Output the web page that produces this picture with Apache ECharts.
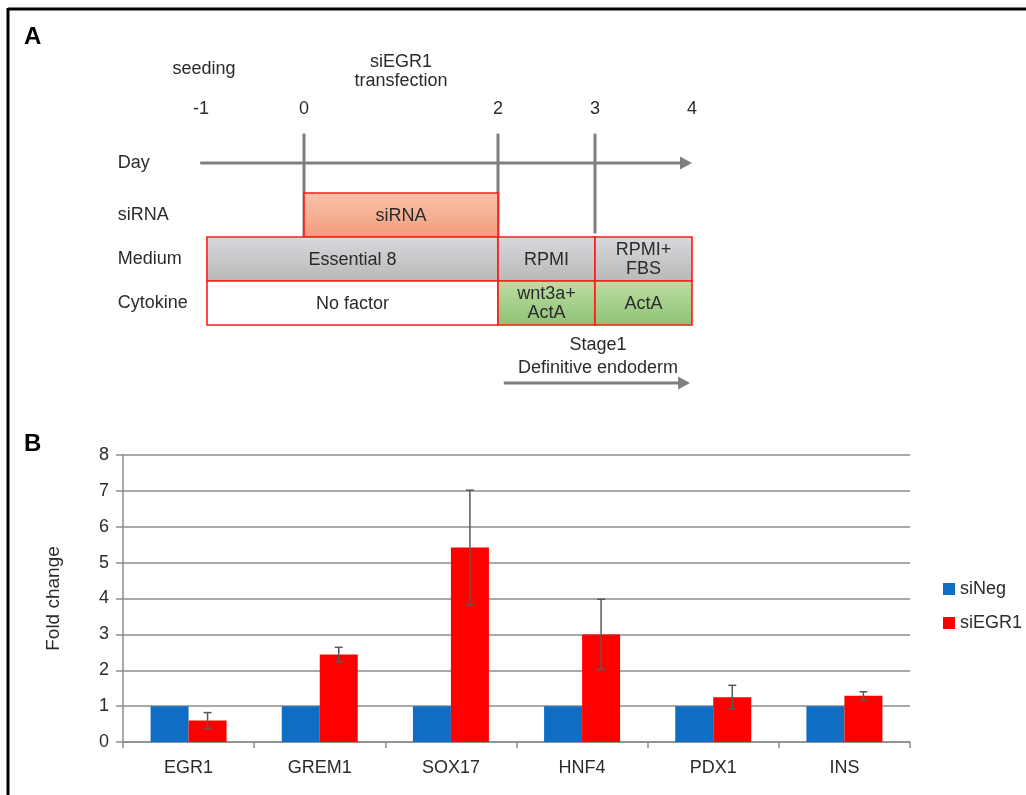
<!DOCTYPE html>
<html>
<head>
<meta charset="utf-8">
<script src="https://cdn.jsdelivr.net/npm/echarts@6/dist/echarts.min.js"></script>
<style>
html,body{margin:0;padding:0;background:#fff;}
#chart{width:1026px;height:795px;}
</style>
</head>
<body>
<div id="chart"></div>
<script>
// ---------- Panel B data ----------
const genes = ['EGR1', 'GREM1', 'SOX17', 'HNF4', 'PDX1', 'INS'];
const siNeg = [1, 1, 1, 1, 1, 1];
const siEGR1 = [0.6, 2.44, 5.42, 3.0, 1.25, 1.29];
const siEGR1Err = [0.22, 0.2, 1.6, 0.98, 0.33, 0.11];
const seriesNames = ['siNeg', 'siEGR1'];
const yAxisTitle = 'Fold change';

// ---------- Panel A data (timeline schematic) ----------
const dayTicks = [-1, 0, 2, 3, 4];
const markedDays = [0, 2, 3];
const rowNames = ['Day', 'siRNA', 'Medium', 'Cytokine'];
const boxLabels = ['siRNA', 'Essential 8', 'RPMI', 'RPMI+\nFBS', 'No factor', 'wnt3a+\nActA', 'ActA'];
const boxRow = ['siRNA', 'Medium', 'Medium', 'Medium', 'Cytokine', 'Cytokine', 'Cytokine'];
const boxStartDay = [0, -1, 2, 3, -1, 2, 3];
const boxEndDay = [2, 2, 3, 4, 2, 3, 4];
const boxKind = ['sirna', 'medium', 'medium', 'medium', 'none', 'factor', 'factor'];
const noteTexts = ['seeding', 'siEGR1\ntransfection'];
const noteDays = [-1, 1];
const stageText = 'Stage1\nDefinitive endoderm';
const stageDays = [2, 4];

// ---------- styling ----------
const FONT = 'Liberation Sans, Arial, sans-serif';
const TXT = '#2b2b2b';
const LINE_GRAY = '#7f7f7f';
const BAR_W = 38;
const DAY_ROW_Y = -0.68;
const FS_A = 18;
const fills = {
  sirna: {type: 'linear', x: 0, y: 0, x2: 0, y2: 1, colorStops: [{offset: 0, color: '#f9c3aa'}, {offset: 1, color: '#f19c7b'}]},
  medium: {type: 'linear', x: 0, y: 0, x2: 0, y2: 1, colorStops: [{offset: 0, color: '#d9d9de'}, {offset: 1, color: '#b8b8b8'}]},
  factor: {type: 'linear', x: 0, y: 0, x2: 0, y2: 1, colorStops: [{offset: 0, color: '#bcdea5'}, {offset: 1, color: '#8ec274'}]},
  none: '#ffffff'
};

function arrow(p1, p2, color) {
  const head = 12, hw = 6.5;
  return [
    {type: 'line', shape: {x1: p1[0], y1: p1[1], x2: p2[0] - head + 2, y2: p2[1]}, style: {stroke: color, lineWidth: 3}},
    {type: 'polygon', shape: {points: [[p2[0], p2[1]], [p2[0] - head, p2[1] - hw], [p2[0] - head, p2[1] + hw]]}, style: {fill: color}}
  ];
}

const chart = echarts.init(document.getElementById('chart'), null, {renderer: 'canvas'});

const option = {
  backgroundColor: '#ffffff',
  animation: false,
  textStyle: {fontFamily: FONT},
  graphic: [
    {type: 'line', shape: {x1: 8, y1: 9, x2: 1026, y2: 9}, style: {stroke: '#000', lineWidth: 3}},
    {type: 'line', shape: {x1: 8, y1: 8, x2: 8, y2: 795}, style: {stroke: '#000', lineWidth: 3}},
    {type: 'text', left: 24, top: 25, style: {text: 'A', font: 'bold 24px ' + FONT, fill: '#000'}},
    {type: 'text', left: 24, top: 432, style: {text: 'B', font: 'bold 24px ' + FONT, fill: '#000'}}
  ],
  legend: {
    orient: 'vertical',
    left: 943,
    top: 580,
    padding: 0,
    itemWidth: 12,
    itemHeight: 12,
    itemGap: 16,
    icon: 'rect',
    data: seriesNames,
    textStyle: {fontSize: 18, color: TXT, fontFamily: FONT}
  },
  grid: [
    {left: 123, right: 116, top: 455, bottom: 53},
    {left: 207, right: 334, top: 61, bottom: 382}
  ],
  xAxis: [
    {
      type: 'category', gridIndex: 0, data: genes,
      axisLine: {lineStyle: {color: '#8c8c8c', width: 1.5}},
      axisTick: {show: true, length: 6, interval: 0, alignWithLabel: false, lineStyle: {color: '#8c8c8c', width: 1.5}},
      axisLabel: {fontSize: 18, color: TXT, margin: 17, fontFamily: FONT}
    },
    {type: 'value', gridIndex: 1, min: -1, max: 4, show: false}
  ],
  yAxis: [
    {
      type: 'value', gridIndex: 0, min: 0, max: 8, interval: 1,
      name: yAxisTitle, nameLocation: 'middle', nameGap: 60, nameRotate: 90,
      nameTextStyle: {fontSize: 19, color: TXT, fontFamily: FONT},
      axisLine: {show: true, lineStyle: {color: '#8c8c8c', width: 1.5}},
      axisTick: {show: true, length: 7, lineStyle: {color: '#8c8c8c', width: 1.5}},
      axisLabel: {fontSize: 18, color: TXT, margin: 14, fontFamily: FONT},
      splitLine: {show: true, lineStyle: {color: '#8c8c8c', width: 1.5}}
    },
    {type: 'value', gridIndex: 1, min: -3, max: 5, inverse: true, show: false}
  ],
  series: [
    {
      name: seriesNames[0], type: 'bar', xAxisIndex: 0, yAxisIndex: 0,
      data: siNeg, barWidth: BAR_W, barGap: '0%',
      itemStyle: {color: '#0f6dc4'}
    },
    {
      name: seriesNames[1], type: 'bar', xAxisIndex: 0, yAxisIndex: 0,
      data: siEGR1, barWidth: BAR_W, barGap: '0%',
      itemStyle: {color: '#ff0000'}
    },
    {
      name: 'err', type: 'custom', xAxisIndex: 0, yAxisIndex: 0, z: 5,
      data: siEGR1.map((v, i) => [i, v, siEGR1Err[i]]),
      encode: {x: 0, y: 1},
      renderItem: function (params, api) {
        const i = api.value(0), v = api.value(1), e = api.value(2);
        const hi = api.coord([i, v + e]);
        const lo = api.coord([i, v - e]);
        const x = hi[0] + BAR_W / 2;
        const cap = 4;
        const st = {stroke: '#5a5a5a', lineWidth: 1.5};
        return {type: 'group', children: [
          {type: 'line', shape: {x1: x, y1: hi[1], x2: x, y2: lo[1]}, style: st},
          {type: 'line', shape: {x1: x - cap, y1: hi[1], x2: x + cap, y2: hi[1]}, style: st},
          {type: 'line', shape: {x1: x - cap, y1: lo[1], x2: x + cap, y2: lo[1]}, style: st}
        ]};
      }
    },
    // ----- Panel A: vertical day marker lines -----
    {
      type: 'custom', xAxisIndex: 1, yAxisIndex: 1, clip: false, z: 1,
      data: markedDays.map(d => [d]),
      encode: {x: 0},
      renderItem: function (params, api) {
        const d = api.value(0);
        const p1 = api.coord([d, -1.35]);
        const p2 = api.coord([d, d === 3 ? 0.92 : 1]);
        return {type: 'line', shape: {x1: p1[0], y1: p1[1], x2: p2[0], y2: p2[1]}, style: {stroke: LINE_GRAY, lineWidth: 3}};
      }
    },
    // ----- Panel A: day arrow + stage arrow -----
    {
      type: 'custom', xAxisIndex: 1, yAxisIndex: 1, clip: false, z: 1,
      data: [[dayTicks[0], dayTicks[dayTicks.length - 1]]],
      encode: {x: [0, 1]},
      renderItem: function (params, api) {
        const p1 = api.coord([api.value(0) - 0.07, DAY_ROW_Y]);
        const p2 = api.coord([api.value(1), DAY_ROW_Y]);
        const s1 = api.coord([stageDays[0] + 0.06, 4.32]);
        const s2 = api.coord([stageDays[1] - 0.02, 4.32]);
        return {type: 'group', children: arrow(p1, p2, LINE_GRAY).concat(arrow(s1, s2, LINE_GRAY))};
      }
    },
    // ----- Panel A: boxes -----
    {
      type: 'custom', xAxisIndex: 1, yAxisIndex: 1, clip: false, z: 3,
      data: boxLabels.map((t, i) => [boxStartDay[i], boxEndDay[i], rowNames.indexOf(boxRow[i]), i]),
      encode: {x: [0, 1], y: 2},
      renderItem: function (params, api) {
        const i = api.value(3);
        const r = api.value(2);
        const p1 = api.coord([api.value(0), r - 1]);
        const p2 = api.coord([api.value(1), r]);
        return {type: 'group', children: [
          {type: 'rect', shape: {x: p1[0], y: p1[1], width: p2[0] - p1[0], height: p2[1] - p1[1]},
           style: {fill: fills[boxKind[i]], stroke: '#ff1a1a', lineWidth: 1.6}},
          {type: 'text', z2: 10, style: {text: boxLabels[i], x: (p1[0] + p2[0]) / 2, y: (p1[1] + p2[1]) / 2 + 1,
            align: 'center', verticalAlign: 'middle', fontSize: FS_A, lineHeight: 19, fontFamily: FONT, fill: TXT}}
        ]};
      }
    },
    // ----- Panel A: texts (row names, day ticks, notes, stage) -----
    {
      type: 'custom', xAxisIndex: 1, yAxisIndex: 1, clip: false, z: 4,
      data: rowNames.map((n, i) => [i]),
      encode: {y: 0},
      renderItem: function (params, api) {
        const i = api.value(0);
        const y = i === 0 ? DAY_ROW_Y : i - 0.5;
        const p = api.coord([-1.92, y]);
        return {type: 'text', style: {text: rowNames[i], x: p[0], y: p[1], align: 'left', verticalAlign: 'middle',
          fontSize: FS_A, fontFamily: FONT, fill: TXT}};
      }
    },
    {
      type: 'custom', xAxisIndex: 1, yAxisIndex: 1, clip: false, z: 4,
      data: dayTicks.map(d => [d]),
      encode: {x: 0},
      renderItem: function (params, api) {
        const p = api.coord([api.value(0), -1.91]);
        return {type: 'text', style: {text: String(api.value(0)), x: p[0] - (api.value(0) < 0 ? 6 : 0), y: p[1], align: 'center', verticalAlign: 'middle',
          fontSize: FS_A, fontFamily: FONT, fill: TXT}};
      }
    },
    {
      type: 'custom', xAxisIndex: 1, yAxisIndex: 1, clip: false, z: 4,
      data: noteTexts.map((t, i) => [noteDays[i], i]),
      encode: {x: 0},
      renderItem: function (params, api) {
        const i = api.value(1);
        const p = api.coord([api.value(0), i === 0 ? -2.82 : -2.77]);
        return {type: 'text', style: {text: noteTexts[i], x: p[0] - (i === 0 ? 3 : 0), y: p[1], align: 'center', verticalAlign: 'middle',
          fontSize: FS_A, lineHeight: 19, fontFamily: FONT, fill: TXT}};
      }
    },
    {
      type: 'custom', xAxisIndex: 1, yAxisIndex: 1, clip: false, z: 4,
      data: [[(stageDays[0] + stageDays[1]) / 2]],
      encode: {x: 0},
      renderItem: function (params, api) {
        const p = api.coord([api.value(0), 3.72]);
        return {type: 'text', style: {text: stageText, x: p[0] + 3, y: p[1], align: 'center', verticalAlign: 'middle',
          fontSize: FS_A, lineHeight: 23, fontFamily: FONT, fill: TXT}};
      }
    }
  ]
};
chart.setOption(option);
</script>
</body>
</html>
